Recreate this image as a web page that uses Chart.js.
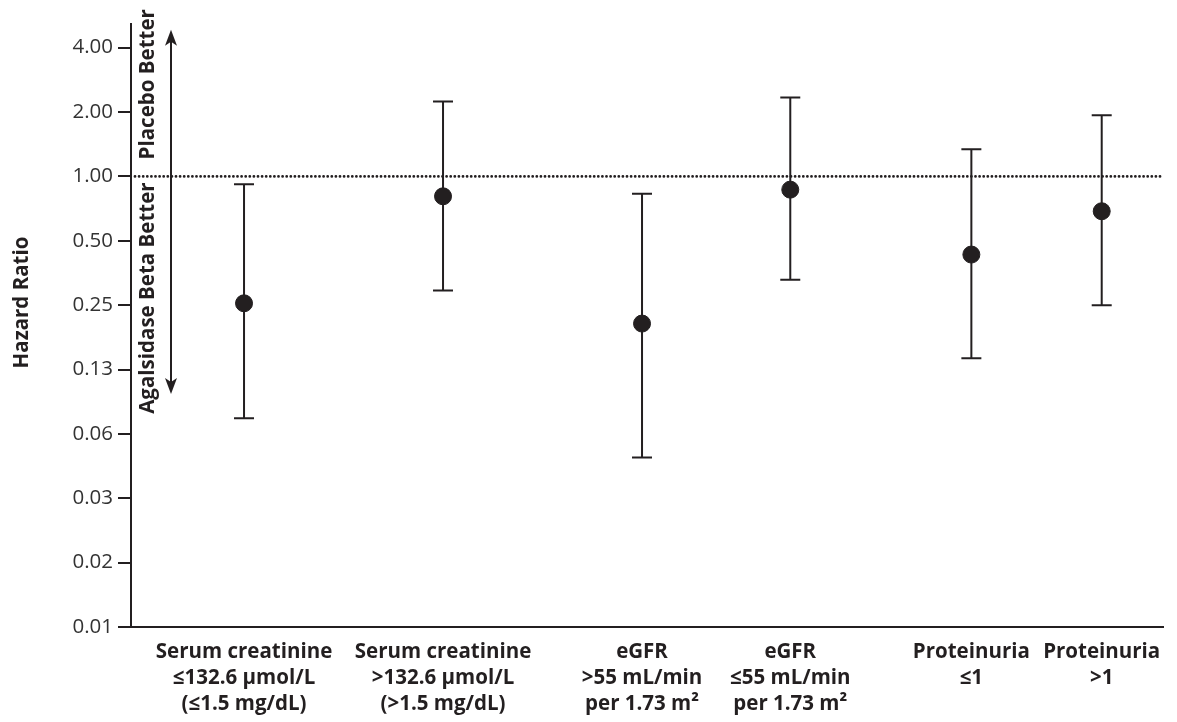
<!DOCTYPE html>
<html>
<head>
<meta charset="utf-8">
<script src="https://cdn.jsdelivr.net/npm/chart.js@4"></script>
<style>
  html, body { margin: 0; padding: 0; background: #fff; }
  #wrap { width: 1177px; height: 722px; }
</style>
</head>
<body>
<div id="wrap"><canvas id="hrChart"></canvas></div>
<script>
// subgroup labels (one array of lines per subgroup)
const subgroups = [
  ['Serum creatinine', '≤132.6 μmol/L', '(≤1.5 mg/dL)'],
  ['Serum creatinine', '>132.6 μmol/L', '(>1.5 mg/dL)'],
  ['eGFR', '>55 mL/min', 'per 1.73 m²'],
  ['eGFR', '≤55 mL/min', 'per 1.73 m²'],
  ['Proteinuria', '≤1'],
  ['Proteinuria', '>1']
];
// where each subgroup sits along the x axis (the figure is not evenly spaced)
const slots = [1, 2, 3, 3.745, 4.655, 5.31];

const hazardRatio = [0.255, 0.807, 0.205, 0.867, 0.431, 0.687];
const ciLower = [0.074, 0.293, 0.0485, 0.329, 0.141, 0.25];
const ciUpper = [0.92, 2.24, 0.83, 2.34, 1.34, 1.93];

const yTicks = [4, 2, 1, 0.5, 0.25, 0.125, 0.0625, 0.03125, 0.015625, 0.0078125];
const yTickLabels = ['4.00', '2.00', '1.00', '0.50', '0.25', '0.13', '0.06', '0.03', '0.02', '0.01'];

const ink = '#231f20';
const fontFam = '"Open Sans", "Noto Sans", sans-serif';

const overlay = {
  id: 'overlay',
  beforeDatasetsDraw(chart) {
    const { ctx, chartArea, scales: { x, y } } = chart;
    ctx.save();
    // no-effect line at HR = 1
    const y1 = y.getPixelForValue(1);
    ctx.strokeStyle = ink;
    ctx.lineWidth = 2.8;
    ctx.lineCap = 'round';
    ctx.setLineDash([0, 4.1]);
    ctx.beginPath();
    ctx.moveTo(chartArea.left + 4, y1);
    ctx.lineTo(chartArea.right, y1);
    ctx.stroke();
    ctx.setLineDash([]);

    // 95% CI whiskers
    ctx.lineWidth = 2;
    ctx.lineCap = 'butt';
    slots.forEach((s, i) => {
      const px = x.getPixelForValue(s);
      const top = y.getPixelForValue(ciUpper[i]);
      const bot = y.getPixelForValue(ciLower[i]);
      ctx.beginPath();
      ctx.moveTo(px, top); ctx.lineTo(px, bot);
      ctx.moveTo(px - 10, top); ctx.lineTo(px + 10, top);
      ctx.moveTo(px - 10, bot); ctx.lineTo(px + 10, bot);
      ctx.stroke();
    });
    ctx.restore();
  },
  afterDraw(chart) {
    const { ctx, chartArea, scales: { y } } = chart;
    const y1 = y.getPixelForValue(1);
    const ax = chartArea.left + 40;
    const yTop = y.getPixelForValue(4.85);
    const yBot = y.getPixelForValue(0.096);
    ctx.save();
    ctx.strokeStyle = ink;
    ctx.fillStyle = ink;
    ctx.lineWidth = 2;
    ctx.beginPath();
    ctx.moveTo(ax, yTop + 10);
    ctx.lineTo(ax, yBot - 10);
    ctx.stroke();
    // arrow heads
    const head = (tipY, dir) => {
      ctx.beginPath();
      ctx.moveTo(ax, tipY);
      ctx.lineTo(ax - 6, tipY + dir * 16);
      ctx.lineTo(ax, tipY + dir * 12);
      ctx.lineTo(ax + 6, tipY + dir * 16);
      ctx.closePath();
      ctx.fill();
    };
    head(yTop, 1);
    head(yBot, -1);

    // direction labels
    ctx.font = 'bold 20.5px ' + fontFam;
    ctx.textBaseline = 'middle';
    const tx = chartArea.left + 17;
    ctx.save();
    ctx.translate(tx, y1 - 17);
    ctx.rotate(-Math.PI / 2);
    ctx.textAlign = 'left';
    ctx.fillText('Placebo Better', 0, 0);
    ctx.restore();
    ctx.save();
    ctx.translate(tx, y1 + 6);
    ctx.rotate(-Math.PI / 2);
    ctx.textAlign = 'right';
    ctx.fillText('Agalsidase Beta Better', 0, 0);
    ctx.restore();

    // axis title, sits a little above the middle of the axis in the figure
    ctx.save();
    ctx.font = 'bold 20.5px ' + fontFam;
    ctx.textAlign = 'center';
    ctx.translate(22, (chartArea.top + chartArea.bottom) / 2 - 23);
    ctx.rotate(-Math.PI / 2);
    ctx.fillText('Hazard Ratio', 0, 0);
    ctx.restore();
    ctx.restore();
  }
};

new Chart(document.getElementById('hrChart'), {
  type: 'scatter',
  data: {
    datasets: [{
      label: 'Hazard ratio',
      data: slots.map((s, i) => ({ x: s, y: hazardRatio[i] })),
      backgroundColor: ink,
      borderColor: ink,
      pointRadius: 8.5,
      pointHoverRadius: 8.5
    }]
  },
  options: {
    responsive: true,
    maintainAspectRatio: false,
    animation: false,
    layout: { padding: { top: 24, right: 14, left: 0, bottom: 0 } },
    plugins: { legend: { display: false }, tooltip: { enabled: false } },
    scales: {
      x: {
        type: 'linear',
        min: 0.432,
        max: 5.618,
        afterBuildTicks: s => { s.ticks = slots.map(v => ({ value: v })); },
        afterFit: s => { s.height = 95; },
        grid: { display: false, drawTicks: false },
        border: { color: ink, width: 2 },
        ticks: {
          autoSkip: false,
          maxRotation: 0,
          padding: 12,
          color: ink,
          font: { family: fontFam, size: 20.5, weight: 'bold', lineHeight: 1.28 },
          callback: (v, i) => subgroups[i]
        }
      },
      y: {
        type: 'logarithmic',
        min: yTicks[yTicks.length - 1],
        max: 5.16,
        afterBuildTicks: s => { s.ticks = yTicks.map(v => ({ value: v })); },
        afterFit: s => { s.width = 131; },
        grid: { drawOnChartArea: false, tickLength: 13, color: ink, lineWidth: 2 },
        border: { color: ink, width: 2 },
        ticks: {
          autoSkip: false,
          padding: 5,
          color: '#333',
          font: { family: fontFam, size: 20.5 },
          callback: (v, i) => yTickLabels[i]
        }
      }
    }
  },
  plugins: [overlay]
});
</script>
</body>
</html>
